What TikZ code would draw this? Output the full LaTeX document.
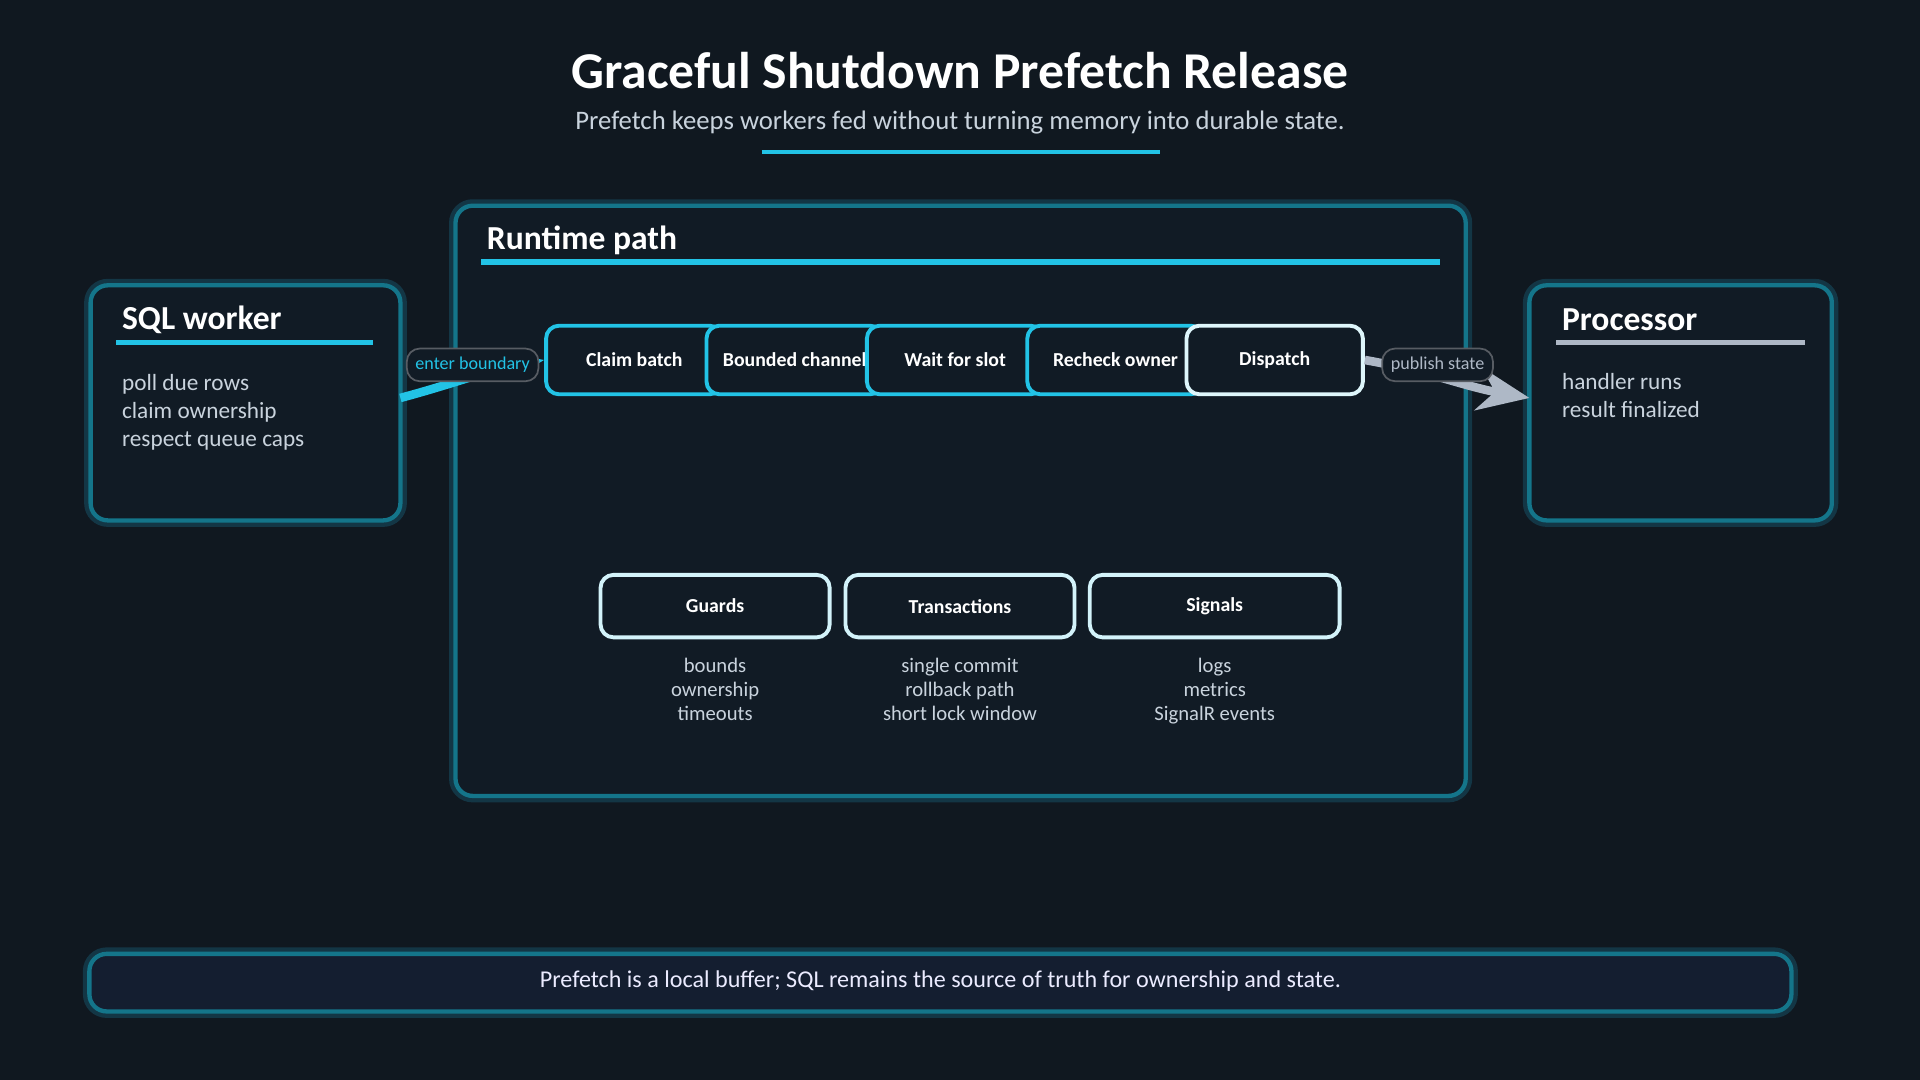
\documentclass[tikz,border=0pt]{standalone}
\usepackage{fontspec}
\setmainfont{Carlito}
\usetikzlibrary{arrows.meta}
\definecolor{bgc}{HTML}{101820}
\definecolor{boxc}{HTML}{111B25}
\definecolor{cyanc}{HTML}{22C3E6}
\definecolor{glowc}{HTML}{1A6F8C}
\definecolor{txtc}{HTML}{C9D3DD}
\definecolor{greyc}{HTML}{AEB8C6}
\definecolor{footc}{HTML}{141E30}
\tikzset{
  panel/.style={draw=cyanc!60!black,line width=1pt,fill=boxc,rounded corners=4pt},
  glow/.style={draw=glowc,line width=3pt,opacity=0.35,rounded corners=4pt},
  stage/.style={draw=cyanc,line width=0.9pt,fill=boxc,rounded corners=3pt,minimum width=1.44cm,minimum height=0.56cm,font=\fontsize{4.6}{5}\selectfont\bfseries,text=white},
  tag/.style={draw=greyc!50!black,fill=boxc,rounded corners=3pt,font=\fontsize{4.2}{4.5}\selectfont,inner sep=2pt},
  body/.style={font=\fontsize{5.4}{6.5}\selectfont,text=txtc,align=left,anchor=north west,inner sep=0pt},
  note/.style={font=\fontsize{4.8}{5.6}\selectfont,text=txtc,align=center,anchor=north},
  head/.style={font=\fontsize{7.8}{8}\selectfont\bfseries,text=white,anchor=west,inner sep=0pt}
}
\begin{document}
\begin{tikzpicture}[x=0.01cm,y=-0.01cm]
\fill[bgc] (0,0) rectangle (1568,882);
\useasboundingbox (0,0) rectangle (1568,882);
% title
\node[font=\fontsize{12}{13}\selectfont\bfseries,text=white] (title) at (784,58) {Graceful Shutdown Prefetch Release};
\node[font=\fontsize{6.2}{7}\selectfont,text=txtc] (subtitle) at (784,100) {Prefetch keeps workers fed without turning memory into durable state.};
\draw[cyanc,line width=1pt] (622,124) -- (947,124);
% panels
\draw[glow] (372,168) rectangle (1197,650);
\draw[panel] (372,168) rectangle (1197,650);
\node[head] (rt) at (397,196) {Runtime path};
\draw[cyanc,line width=1.2pt] (393,214) -- (1176,214);
\draw[glow] (74,233) rectangle (327,425);
\draw[panel] (74,233) rectangle (327,425);
\node[head] (sql) at (99,261) {SQL worker};
\draw[cyanc,line width=1.2pt] (95,280) -- (305,280);
\node[body] (sqltxt) at (99,305) {poll due rows\\claim ownership\\respect queue caps};
\draw[glow] (1249,233) rectangle (1496,425);
\draw[panel] (1249,233) rectangle (1496,425);
\node[head] (proc) at (1275,261) {Processor};
\draw[greyc,line width=1.2pt] (1271,280) -- (1474,280);
\node[body] (proctxt) at (1275,304) {handler runs\\result finalized};
% pipeline
\foreach \n/\t [count=\i from 0] in {claim/Claim batch,chan/Bounded channel,wait/Wait for slot,recheck/Recheck owner}
  \node[stage] (\n) at (518+131*\i,294) {\t};
\node[stage,draw=white!85!cyanc] (dispatch) at (1041,294) {Dispatch};
% flows
\coordinate (in) at (327,325);
\coordinate (out) at (1249,325);
\draw[cyanc,line width=2pt,-{Stealth[length=6pt]}] (in) to[out=15,in=190] (claim.west);
\node[tag,text=cyanc] (enter) at (386,298) {enter boundary};
\draw[greyc,line width=2pt,-{Stealth[length=12pt,width=10pt]}] (dispatch.east) to[out=-10,in=170] (out);
\node[tag,text=greyc] (publish) at (1174,298) {publish state};
% lower boxes
\foreach \n/\t/\x/\w/\s in {guards/Guards/584/1.87/{bounds\\ownership\\timeouts},trans/Transactions/784/1.87/{single commit\\rollback path\\short lock window},sig/Signals/992/2.04/{logs\\metrics\\SignalR events}}{
  \node[stage,draw=white!80!cyanc,minimum width=\w cm,minimum height=0.51cm] (\n) at (\x,495) {\t};
  \node[note] (\n txt) at (\x,525) {\s};
}
% footer
\draw[glow] (73,779) rectangle (1463,826);
\draw[panel,fill=footc] (73,779) rectangle (1463,826);
\node[font=\fontsize{5.6}{6}\selectfont,text=white!92!blue] (foot) at (768,801) {Prefetch is a local buffer; SQL remains the source of truth for ownership and state.};
\end{tikzpicture}
\end{document}
